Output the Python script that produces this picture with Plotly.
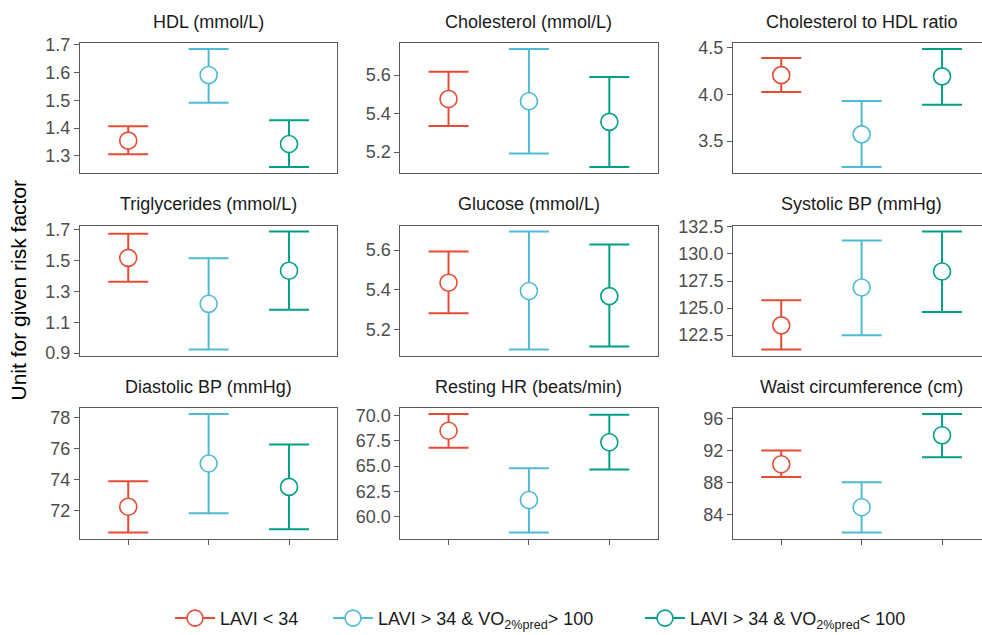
import plotly.graph_objects as go

panels = ["HDL (mmol/L)", "Cholesterol (mmol/L)", "Cholesterol to HDL ratio",
          "Triglycerides (mmol/L)", "Glucose (mmol/L)", "Systolic BP (mmHg)",
          "Diastolic BP (mmHg)", "Resting HR (beats/min)", "Waist circumference (cm)"]

groups = ["LAVI < 34",
          "LAVI > 34 & VO<sub>2%pred</sub>> 100",
          "LAVI > 34 & VO<sub>2%pred</sub>< 100"]
colors = ["#E64B35", "#4DBBD5", "#00A087"]

red_mean = [1.355, 5.476, 4.204, 1.516, 5.435, 123.41, 72.27, 68.50, 90.27]
red_low = [1.306, 5.335, 4.023, 1.361, 5.281, 121.17, 70.60, 66.81, 88.66]
red_high = [1.407, 5.617, 4.385, 1.672, 5.593, 125.72, 73.92, 70.17, 92.00]

blue_mean = [1.591, 5.464, 3.573, 1.219, 5.393, 126.90, 75.06, 61.64, 84.87]
blue_low = [1.491, 5.193, 3.224, 0.923, 5.097, 122.50, 71.85, 58.41, 81.70]
blue_high = [1.685, 5.736, 3.927, 1.513, 5.694, 131.23, 78.26, 64.79, 88.00]

green_mean = [1.343, 5.357, 4.190, 1.433, 5.367, 128.38, 73.55, 67.36, 93.90]
green_low = [1.260, 5.122, 3.888, 1.181, 5.112, 124.63, 70.81, 64.66, 91.14]
green_high = [1.428, 5.590, 4.483, 1.687, 5.628, 132.08, 76.28, 70.10, 96.58]

tick_labels = [["1.3", "1.4", "1.5", "1.6", "1.7"],
               ["5.2", "5.4", "5.6"],
               ["3.5", "4.0", "4.5"],
               ["0.9", "1.1", "1.3", "1.5", "1.7"],
               ["5.2", "5.4", "5.6"],
               ["122.5", "125.0", "127.5", "130.0", "132.5"],
               ["72", "74", "76", "78"],
               ["60.0", "62.5", "65.0", "67.5", "70.0"],
               ["84", "88", "92", "96"]]

means = [red_mean, blue_mean, green_mean]
lows = [red_low, blue_low, green_low]
highs = [red_high, blue_high, green_high]

W, H = 982, 635
col_px = [(80, 337), (400.3, 658), (733, 982)]
unit_px = 80.4
row_px = [(43, 173), (225.5, 355.5), (408, 538.5)]
legend_text_px = [220, 378, 690]

FONT = "Liberation Sans, Arial, Helvetica, sans-serif"
fig = go.Figure()
layout = {}
annotations = []

for p in range(9):
    r, c = divmod(p, 3)
    sfx = "" if p == 0 else str(p + 1)
    for g in range(3):
        m = means[g][p]
        fig.add_trace(go.Scatter(
            x=[g + 1], y=[m], mode="markers",
            xaxis="x" + sfx, yaxis="y" + sfx, showlegend=False,
            marker=dict(symbol="circle", size=17, color="white",
                        line=dict(color=colors[g], width=1.6)),
            error_y=dict(type="data", symmetric=False,
                         array=[highs[g][p] - m], arrayminus=[m - lows[g][p]],
                         color=colors[g], thickness=2, width=20),
            hoverinfo="skip"))
    x0, x1 = col_px[c]
    y0, y1 = row_px[r]
    xr = [0.4, 0.4 + (x1 - x0) / unit_px]
    lo = min(lows[g][p] for g in range(3))
    hi = max(highs[g][p] for g in range(3))
    span = hi - lo
    yr = [lo - 0.05 * span, hi + 0.05 * span]
    tv = [float(t) for t in tick_labels[p]]
    layout["xaxis" + sfx] = dict(
        domain=[x0 / W, x1 / W], range=xr, anchor="y" + sfx,
        showgrid=False, zeroline=False, showline=True, mirror=True,
        linecolor="#5a5a5a", linewidth=1,
        tickvals=[1, 2, 3], showticklabels=False,
        ticks="outside" if r == 2 else "", ticklen=5, tickcolor="#5a5a5a",
        fixedrange=True)
    layout["yaxis" + sfx] = dict(
        domain=[1 - y1 / H, 1 - y0 / H], range=yr, anchor="x" + sfx,
        showgrid=False, zeroline=False, showline=True, mirror=True,
        linecolor="#5a5a5a", linewidth=1,
        tickvals=tv, ticktext=tick_labels[p],
        ticks="outside", ticklen=5, tickcolor="#5a5a5a",
        tickfont=dict(size=18, color="#4D4D4D", family=FONT),
        fixedrange=True)
    cx = x0 + 1.6 * unit_px
    annotations.append(dict(
        text=panels[p], x=cx / W, y=1 - (y0 - 21) / H,
        xref="paper", yref="paper", xanchor="center", yanchor="middle",
        showarrow=False, font=dict(size=18, color="#1A1A1A", family=FONT)))

annotations.append(dict(
    text="Unit for given risk factor", x=18 / W, y=1 - 290.5 / H,
    xref="paper", yref="paper", xanchor="center", yanchor="middle",
    textangle=-90, showarrow=False,
    font=dict(size=21, color="#000000", family=FONT)))

legend_names = ["legend", "legend2", "legend3"]
for g in range(3):
    fig.add_trace(go.Scatter(
        x=[None], y=[None], mode="lines+markers", name=groups[g],
        legend=legend_names[g],
        line=dict(color=colors[g], width=2),
        marker=dict(symbol="circle", size=16, color="white",
                    line=dict(color=colors[g], width=1.6)),
        showlegend=True))
    layout[legend_names[g]] = dict(
        orientation="h", x=(legend_text_px[g] - 50) / W, y=-0.003,
        xanchor="left", yanchor="bottom", itemwidth=40,
        font=dict(size=18, color="#1A1A1A", family=FONT),
        bgcolor="rgba(0,0,0,0)")

fig.update_layout(
    width=W, height=H,
    margin=dict(l=0, r=0, t=0, b=0, autoexpand=False),
    paper_bgcolor="white", plot_bgcolor="white",
    font=dict(family=FONT, color="#1A1A1A"),
    annotations=annotations,
    showlegend=True,
    **layout)

fig.write_html("out.html")
